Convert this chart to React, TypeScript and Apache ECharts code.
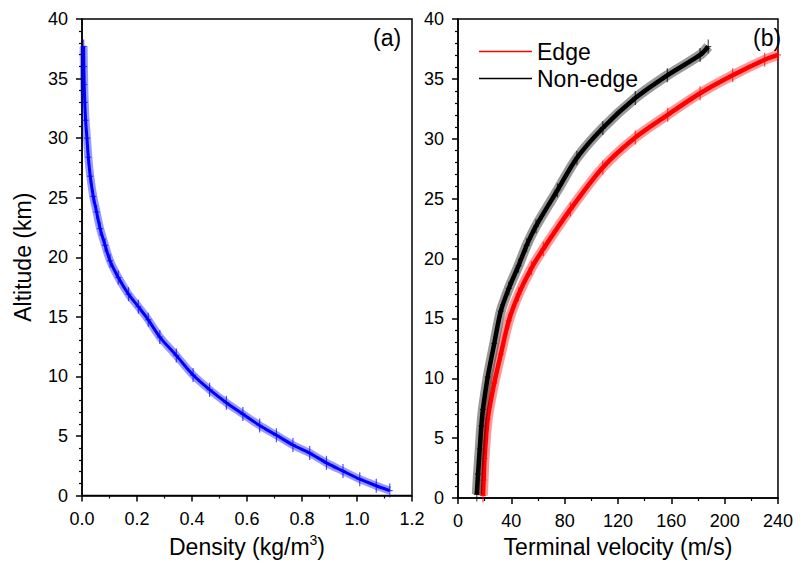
import React, { useEffect, useRef } from "react";
import * as echarts from "echarts";

// Panel (a): altitude (km) vs density (kg/m3)
const densityAlt = [0.41, 0.82, 1.37, 2.05, 2.74, 3.56, 4.24, 5.06, 5.88, 6.84, 7.79, 8.88, 10.11, 11.75, 13.3, 14.75, 15.85, 16.9, 18.3, 19.7, 21.0, 22.4, 23.8, 25.1, 26.8, 28.4, 30.0, 31.5, 33.0, 34.5, 36.0, 37.7];
const densityVal = [1.119, 1.07, 1.01, 0.949, 0.889, 0.828, 0.767, 0.707, 0.646, 0.585, 0.525, 0.464, 0.404, 0.343, 0.283, 0.241, 0.205, 0.169, 0.132, 0.102, 0.084, 0.066, 0.053, 0.041, 0.030, 0.023, 0.018, 0.013, 0.010, 0.008, 0.007, 0.006];

// Panel (b): altitude (km) vs terminal velocity (m/s)
const edgeAlt = [0.2, 1.5, 3.3, 6.6, 9.6, 12.0, 14.8, 17.0, 19.2, 20.8, 24.1, 27.6, 30.1, 32.0, 33.8, 35.3, 36.6, 37.0];
const edgeVel = [18.7, 19.2, 19.9, 22.3, 27.2, 32.1, 38.1, 45.4, 55.1, 64, 84.3, 108.6, 133, 157.3, 181.6, 206, 230, 240];
const nonEdgeAlt = [0.3, 2.0, 4.1, 6.0, 7.4, 10.1, 12.9, 15.6, 17.5, 19.4, 21.1, 22.7, 25.7, 28.4, 30.9, 33.4, 35.3, 37.0, 37.7];
const nonEdgeVel = [14.1, 15.0, 16.3, 17.5, 18.7, 22.3, 27.2, 32.1, 38.1, 45.4, 51.5, 58.5, 74.6, 89.2, 108.6, 133, 157, 181.6, 187.7];

const yTicks = [0, 5, 10, 15, 20, 25, 30, 35, 40];
const densityTicks = ["0.0", "0.2", "0.4", "0.6", "0.8", "1.0", "1.2"];
const velocityTicks = ["0", "40", "80", "120", "160", "200", "240"];

const FONT = 'Arial, "Liberation Sans", sans-serif';

function pairs(xs: number[], ys: number[]) {
  return xs.map((x, i) => [x, ys[i]]);
}

function errRender(color: string) {
  return (params: any, api: any) => {
    const p = api.coord([api.value(0), api.value(1)]);
    const v = 7;
    const h = 3;
    return {
      type: "group",
      children: [
        { type: "line", shape: { x1: p[0], y1: p[1] - v, x2: p[0], y2: p[1] + v }, style: { stroke: color, lineWidth: 1.2, opacity: 0.7 } },
        { type: "line", shape: { x1: p[0] - h, y1: p[1], x2: p[0] + h, y2: p[1] }, style: { stroke: color, lineWidth: 1.2, opacity: 0.7 } },
      ],
    };
  };
}

export default function App() {
  const ref = useRef<HTMLDivElement>(null);
  useEffect(() => {
    if (!ref.current) return;
    const chart = echarts.init(ref.current, null, { renderer: "svg" });
    const axisCommon = {
      axisLine: { show: true, onZero: false, lineStyle: { color: "#000", width: 1.5 } },
      axisTick: { show: true, inside: false, length: 6, lineStyle: { color: "#000", width: 1.5 } },
      minorTick: { show: true, length: 3, lineStyle: { color: "#000", width: 1.2 } },
      splitLine: { show: false },
      axisLabel: { color: "#000", fontSize: 18, fontFamily: FONT, margin: 14 },
      nameTextStyle: { color: "#000", fontSize: 23, fontFamily: FONT },
    };
    const densityData = pairs(densityVal, densityAlt);
    const edgeData = pairs(edgeVel, edgeAlt);
    const nonEdgeData = pairs(nonEdgeVel, nonEdgeAlt);
    const lineSeries = (name: string, data: number[][], color: string, xi: number, width: number, band: number) => [
      {
        name: name + " band", type: "line", xAxisIndex: xi, yAxisIndex: xi, data,
        symbol: "none", smooth: 0.3, silent: true,
        lineStyle: { color, width: band, opacity: 0.4 }, itemStyle: { color },
      },
      {
        name, type: "line", xAxisIndex: xi, yAxisIndex: xi, data,
        symbol: "none", smooth: 0.3,
        lineStyle: { color, width }, itemStyle: { color },
      },
      {
        name: name + " err", type: "custom", xAxisIndex: xi, yAxisIndex: xi, data,
        renderItem: errRender(color),
      },
    ];
    chart.setOption({
      animation: false,
      backgroundColor: "#fff",
      grid: [
        { left: 74, top: 11, width: 330, height: 488, show: true, borderColor: "#000", borderWidth: 1.5, backgroundColor: "transparent" },
        { left: 450, top: 11, width: 329, height: 488, show: true, borderColor: "#000", borderWidth: 1.5, backgroundColor: "transparent" },
      ],
      xAxis: [
        {
          ...axisCommon,
          gridIndex: 0,
          type: "value",
          min: 0,
          max: 1.2,
          interval: 0.2,
          minorTick: { ...axisCommon.minorTick, splitNumber: 2 },
          axisLabel: { ...axisCommon.axisLabel, formatter: (v: number) => densityTicks[Math.round(v / 0.2)] ?? "" },
          name: "Density (kg/m{sup|3})",
          nameLocation: "middle",
          nameGap: 37,
          nameTextStyle: {
            ...axisCommon.nameTextStyle,
            rich: { sup: { fontSize: 14, fontFamily: FONT, color: "#000", verticalAlign: "top", padding: [0, 0, 14, 0] } },
          },
        },
        {
          ...axisCommon,
          gridIndex: 1,
          type: "value",
          min: 0,
          max: 240,
          interval: 40,
          minorTick: { ...axisCommon.minorTick, splitNumber: 2 },
          axisLabel: { ...axisCommon.axisLabel, formatter: (v: number) => velocityTicks[Math.round(v / 40)] ?? "" },
          name: "Terminal velocity (m/s)",
          nameLocation: "middle",
          nameGap: 37,
        },
      ],
      yAxis: [
        {
          ...axisCommon,
          gridIndex: 0,
          type: "value",
          min: 0,
          max: 40,
          interval: 5,
          minorTick: { ...axisCommon.minorTick, splitNumber: 5 },
          axisLabel: { ...axisCommon.axisLabel, formatter: (v: number) => String(yTicks[Math.round(v / 5)]) },
          name: "Altitude (km)",
          nameLocation: "middle",
          nameGap: 48,
        },
        {
          ...axisCommon,
          gridIndex: 1,
          type: "value",
          min: 0,
          max: 40,
          interval: 5,
          minorTick: { ...axisCommon.minorTick, splitNumber: 5 },
          axisLabel: { ...axisCommon.axisLabel, formatter: (v: number) => String(yTicks[Math.round(v / 5)]) },
        },
      ],
      legend: {
        data: ["Edge", "Non-edge"],
        orient: "vertical",
        left: 466,
        top: 27,
        icon: "rect",
        itemWidth: 53,
        itemHeight: 1.5,
        itemGap: 4,
        textStyle: { fontSize: 23, fontFamily: FONT, color: "#000" },
      },
      graphic: [
        { type: "text", left: 365, top: 18, style: { text: "(a)", fontSize: 23, fontFamily: FONT, fill: "#000" } },
        { type: "text", left: 745, top: 18, style: { text: "(b)", fontSize: 23, fontFamily: FONT, fill: "#000" } },
      ],
      series: [
        ...lineSeries("Density", densityData, "#0000ff", 0, 3, 8),
        ...lineSeries("Edge", edgeData, "#ff0000", 1, 4.5, 10),
        ...lineSeries("Non-edge", nonEdgeData, "#000000", 1, 4.5, 10),
      ],
    });
    return () => chart.dispose();
  }, []);
  return <div ref={ref} style={{ width: 788, height: 555 }} />;
}
